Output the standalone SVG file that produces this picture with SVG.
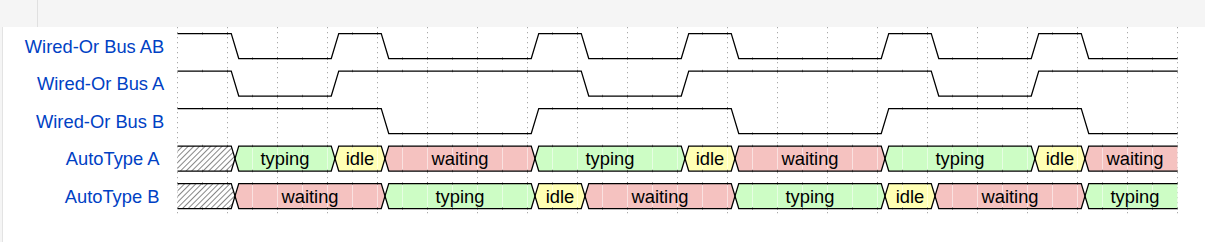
<svg xmlns="http://www.w3.org/2000/svg" width="1205" height="242" viewBox="0 0 1205 242">
<style>
.lbl{font-family:"Liberation Sans",Arial,sans-serif;font-size:18.33px;fill:#0041c4;text-anchor:end}
.dt{font-family:"Liberation Sans",Arial,sans-serif;font-size:18.33px;fill:#000;text-anchor:middle}
.wave{fill:none;stroke:#000;stroke-width:1.25}
.tick{fill:none;stroke:#000;stroke-width:2.6;stroke-dasharray:1 24;stroke-dashoffset:1.5;opacity:0.45}
.grid{stroke:#aaa;stroke-width:1;stroke-dasharray:1.25 3.75}
.typing{fill:#cdfdc5}
.idle{fill:#ffffb4}
.waiting{fill:#f5c2c0}
.x{fill:url(#hatch)}
.seam{fill:url(#seams)}
</style>
<defs>
<pattern id="hatch" patternUnits="userSpaceOnUse" width="4" height="4" patternTransform="rotate(45)">
<rect x="0" y="0" width="4" height="4" fill="#fff"/>
<rect x="0" y="0" width="1" height="4" fill="#888"/>
</pattern>
<pattern id="seams" patternUnits="userSpaceOnUse" x="0" y="0" width="25" height="242">
<rect x="2" y="0" width="1" height="242" fill="#fff" fill-opacity="0.5"/>
</pattern>
</defs>
<rect x="0" y="0" width="1205" height="242" fill="#fff"/>
<rect x="0" y="0" width="1205" height="27" fill="#f5f5f5"/>
<line x1="37.5" y1="0" x2="37.5" y2="27" stroke="#e0e0e0" stroke-width="1"/>
<rect x="0" y="27" width="2" height="215" fill="#f5f5f5"/>
<line x1="2.5" y1="27" x2="2.5" y2="242" stroke="#e3e3e3" stroke-width="1"/>
<g id="grid">
<path class="grid" d="M177.5,27V214M227.5,27V214M277.5,27V214M327.5,27V214M377.5,27V214M427.5,27V214M477.5,27V214M527.5,27V214M577.5,27V214M627.5,27V214M677.5,27V214M727.5,27V214M777.5,27V214M827.5,27V214M877.5,27V214M927.5,27V214M977.5,27V214M1027.5,27V214M1077.5,27V214M1127.5,27V214M1177.5,27V214"/>
</g>
<g id="connectors"></g>
<g id="wired-or-bus-ab">
<text class="lbl" x="164.3" y="52.8">Wired-Or Bus AB</text>
<path class="wave" d="M177.5,33.5H231.25L238.75,58.5H331.25L338.75,33.5H381.25L388.75,58.5H531.25L538.75,33.5H581.25L588.75,58.5H681.25L688.75,33.5H731.25L738.75,58.5H881.25L888.75,33.5H931.25L938.75,58.5H1031.25L1038.75,33.5H1081.25L1088.75,58.5H1177.5"/>
<path class="tick" d="M178.5,33.5H228.5M328.5,33.5H378.5M528.5,33.5H578.5M678.5,33.5H728.5M878.5,33.5H928.5M1028.5,33.5H1078.5M228.5,58.5H328.5M378.5,58.5H528.5M578.5,58.5H678.5M728.5,58.5H878.5M928.5,58.5H1028.5M1078.5,58.5H1177.5"/>
</g>
<g id="wired-or-bus-a">
<text class="lbl" x="164.3" y="90.3">Wired-Or Bus A</text>
<path class="wave" d="M177.5,71H231.25L238.75,96H331.25L338.75,71H581.25L588.75,96H681.25L688.75,71H931.25L938.75,96H1031.25L1038.75,71H1177.5"/>
<path class="tick" d="M178.5,71H228.5M328.5,71H578.5M678.5,71H928.5M1028.5,71H1177.5M228.5,96H328.5M578.5,96H678.5M928.5,96H1028.5"/>
</g>
<g id="wired-or-bus-b">
<text class="lbl" x="164.3" y="127.8">Wired-Or Bus B</text>
<path class="wave" d="M177.5,108.5H381.25L388.75,133.5H531.25L538.75,108.5H731.25L738.75,133.5H881.25L888.75,108.5H1081.25L1088.75,133.5H1177.5"/>
<path class="tick" d="M178.5,108.5H378.5M528.5,108.5H728.5M878.5,108.5H1078.5M378.5,133.5H528.5M728.5,133.5H878.5M1078.5,133.5H1177.5"/>
</g>
<g id="autotype-a">
<text class="lbl" x="159.5" y="165.3">AutoType A</text>
<polygon class="x" points="177.5,146 231.25,146 235,158.5 231.25,171 177.5,171"/>
<polygon class="typing" points="235,158.5 238.75,146 331.25,146 335,158.5 331.25,171 238.75,171"/>
<polygon class="idle" points="335,158.5 338.75,146 381.25,146 385,158.5 381.25,171 338.75,171"/>
<polygon class="waiting" points="385,158.5 388.75,146 531.25,146 535,158.5 531.25,171 388.75,171"/>
<polygon class="typing" points="535,158.5 538.75,146 681.25,146 685,158.5 681.25,171 538.75,171"/>
<polygon class="idle" points="685,158.5 688.75,146 731.25,146 735,158.5 731.25,171 688.75,171"/>
<polygon class="waiting" points="735,158.5 738.75,146 881.25,146 885,158.5 881.25,171 738.75,171"/>
<polygon class="typing" points="885,158.5 888.75,146 1031.25,146 1035,158.5 1031.25,171 888.75,171"/>
<polygon class="idle" points="1035,158.5 1038.75,146 1081.25,146 1085,158.5 1081.25,171 1038.75,171"/>
<polygon class="waiting" points="1085,158.5 1088.75,146 1177.5,146 1177.5,171 1088.75,171"/>
<rect class="seam" x="240" y="146.7" width="937.5" height="23.6"/>
<path class="wave" d="M177.5,146H231.25L238.75,171H331.25L338.75,146H381.25L388.75,171H531.25L538.75,146H681.25L688.75,171H731.25L738.75,146H881.25L888.75,171H1031.25L1038.75,146H1081.25L1088.75,171H1177.5"/>
<path class="wave" d="M177.5,171H231.25L238.75,146H331.25L338.75,171H381.25L388.75,146H531.25L538.75,171H681.25L688.75,146H731.25L738.75,171H881.25L888.75,146H1031.25L1038.75,171H1081.25L1088.75,146H1177.5"/>
<path class="tick" d="M178.5,146H1177.5M178.5,171H1177.5"/>
<text class="dt" x="285" y="165.3">typing</text>
<text class="dt" x="360" y="165.3">idle</text>
<text class="dt" x="460" y="165.3">waiting</text>
<text class="dt" x="610" y="165.3">typing</text>
<text class="dt" x="710" y="165.3">idle</text>
<text class="dt" x="810" y="165.3">waiting</text>
<text class="dt" x="960" y="165.3">typing</text>
<text class="dt" x="1060" y="165.3">idle</text>
<text class="dt" x="1135" y="165.3">waiting</text>
</g>
<g id="autotype-b">
<text class="lbl" x="159.5" y="202.8">AutoType B</text>
<polygon class="x" points="177.5,183.5 231.25,183.5 235,196 231.25,208.5 177.5,208.5"/>
<polygon class="waiting" points="235,196 238.75,183.5 381.25,183.5 385,196 381.25,208.5 238.75,208.5"/>
<polygon class="typing" points="385,196 388.75,183.5 531.25,183.5 535,196 531.25,208.5 388.75,208.5"/>
<polygon class="idle" points="535,196 538.75,183.5 581.25,183.5 585,196 581.25,208.5 538.75,208.5"/>
<polygon class="waiting" points="585,196 588.75,183.5 731.25,183.5 735,196 731.25,208.5 588.75,208.5"/>
<polygon class="typing" points="735,196 738.75,183.5 881.25,183.5 885,196 881.25,208.5 738.75,208.5"/>
<polygon class="idle" points="885,196 888.75,183.5 931.25,183.5 935,196 931.25,208.5 888.75,208.5"/>
<polygon class="waiting" points="935,196 938.75,183.5 1081.25,183.5 1085,196 1081.25,208.5 938.75,208.5"/>
<polygon class="typing" points="1085,196 1088.75,183.5 1177.5,183.5 1177.5,208.5 1088.75,208.5"/>
<rect class="seam" x="240" y="184.2" width="937.5" height="23.6"/>
<path class="wave" d="M177.5,183.5H231.25L238.75,208.5H381.25L388.75,183.5H531.25L538.75,208.5H581.25L588.75,183.5H731.25L738.75,208.5H881.25L888.75,183.5H931.25L938.75,208.5H1081.25L1088.75,183.5H1177.5"/>
<path class="wave" d="M177.5,208.5H231.25L238.75,183.5H381.25L388.75,208.5H531.25L538.75,183.5H581.25L588.75,208.5H731.25L738.75,183.5H881.25L888.75,208.5H931.25L938.75,183.5H1081.25L1088.75,208.5H1177.5"/>
<path class="tick" d="M178.5,183.5H1177.5M178.5,208.5H1177.5"/>
<text class="dt" x="310" y="202.8">waiting</text>
<text class="dt" x="460" y="202.8">typing</text>
<text class="dt" x="560" y="202.8">idle</text>
<text class="dt" x="660" y="202.8">waiting</text>
<text class="dt" x="810" y="202.8">typing</text>
<text class="dt" x="910" y="202.8">idle</text>
<text class="dt" x="1010" y="202.8">waiting</text>
<text class="dt" x="1135" y="202.8">typing</text>
</g>
</svg>
